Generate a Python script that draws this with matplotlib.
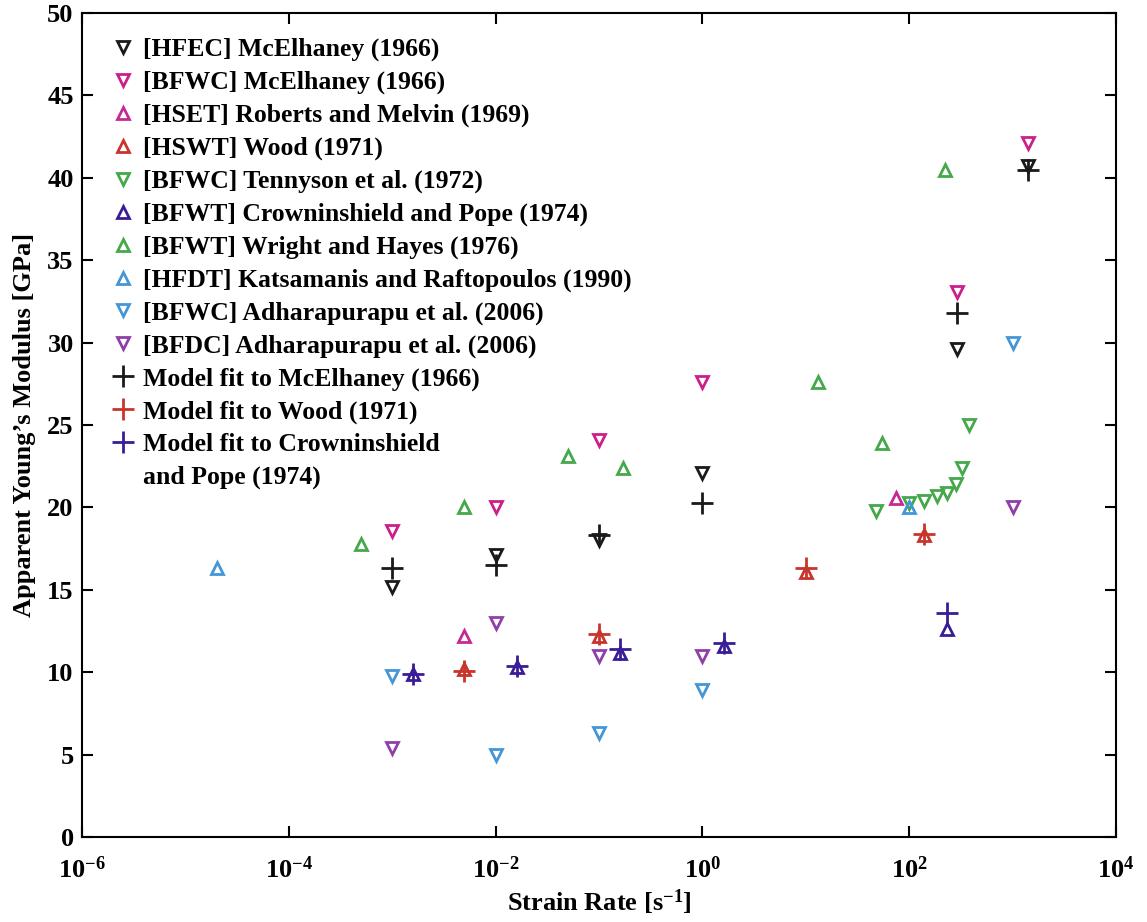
import matplotlib
matplotlib.use('Agg')
import matplotlib.pyplot as plt
from matplotlib.lines import Line2D

plt.rcParams['font.family'] = ['Liberation Serif', 'DejaVu Serif']
plt.rcParams['font.weight'] = 'bold'
plt.rcParams['font.size'] = 19
plt.rcParams['mathtext.fontset'] = 'custom'
plt.rcParams['mathtext.rm'] = 'Liberation Serif:bold'
plt.rcParams['mathtext.it'] = 'Liberation Serif:bold'
plt.rcParams['mathtext.bf'] = 'Liberation Serif:bold'

# data: (strain rate [1/s], modulus [GPa])
hfec_mce_x = [1e-3, 1e-2, 1e-1, 1, 290, 1400]
hfec_mce_y = [15.2, 17.1, 18.0, 22.1, 29.6, 40.7]

bfwc_mce_x = [1e-3, 1e-2, 1e-1, 1, 290, 1400]
bfwc_mce_y = [18.6, 20.0, 24.1, 27.6, 33.1, 42.1]

hset_rob_x = [5e-3, 75]
hset_rob_y = [12.2, 20.6]

hswt_wood_x = [5e-3, 0.1, 10, 140]
hswt_wood_y = [10.2, 12.2, 16.1, 18.3]

bfwc_ten_x = [48, 100, 140, 187, 233, 286, 325, 380]
bfwc_ten_y = [19.8, 20.3, 20.4, 20.7, 20.9, 21.4, 22.4, 25.0]

bfwt_crown_x = [1.6e-3, 1.6e-2, 0.16, 1.6, 230]
bfwt_crown_y = [9.9, 10.3, 11.2, 11.6, 12.6]

bfwt_wright_x = [5e-4, 5e-3, 5e-2, 0.17, 13, 55, 220]
bfwt_wright_y = [17.8, 20.0, 23.1, 22.4, 27.6, 23.9, 40.5]

hfdt_kats_x = [2e-5, 100]
hfdt_kats_y = [16.3, 20.0]

bfwc_adh_x = [1e-3, 1e-2, 1e-1, 1, 1000]
bfwc_adh_y = [9.8, 5.0, 6.3, 8.9, 30.0]

bfdc_adh_x = [1e-3, 1e-2, 1e-1, 1, 1000]
bfdc_adh_y = [5.4, 13.0, 11.0, 11.0, 20.0]

fit_mce_x = [1e-3, 1e-2, 1e-1, 1, 290, 1400]
fit_mce_y = [16.3, 16.5, 18.3, 20.3, 31.8, 40.5]

fit_wood_x = [5e-3, 0.1, 10, 140]
fit_wood_y = [10.1, 12.3, 16.3, 18.4]

fit_crown_x = [1.6e-3, 1.6e-2, 0.16, 1.6, 230]
fit_crown_y = [9.9, 10.4, 11.4, 11.8, 13.6]

fig = plt.figure(figsize=(11.47, 9.22), dpi=100)
ax = fig.add_axes([0.0715, 0.092, 0.9015, 0.894])

tri = dict(linestyle='none', markerfacecolor='none', markersize=8, markeredgewidth=2)
plus = dict(linestyle='none', markersize=16, markeredgewidth=2)

ax.plot(hfec_mce_x, hfec_mce_y, 'v', color='#1a1a1a', label='[HFEC] McElhaney (1966)', **tri)
ax.plot(bfwc_mce_x, bfwc_mce_y, 'v', color='#cc1f8a', label='[BFWC] McElhaney (1966)', **tri)
ax.plot(hset_rob_x, hset_rob_y, '^', color='#c42a96', label='[HSET] Roberts and Melvin (1969)', **tri)
ax.plot(hswt_wood_x, hswt_wood_y, '^', color='#c8352c', label='[HSWT] Wood (1971)', **tri)
ax.plot(bfwc_ten_x, bfwc_ten_y, 'v', color='#45a84a', label='[BFWC] Tennyson et al. (1972)', **tri)
ax.plot(bfwt_crown_x, bfwt_crown_y, '^', color='#3a1c97', label='[BFWT] Crowninshield and Pope (1974)', **tri)
ax.plot(bfwt_wright_x, bfwt_wright_y, '^', color='#45a84a', label='[BFWT] Wright and Hayes (1976)', **tri)
ax.plot(hfdt_kats_x, hfdt_kats_y, '^', color='#4496d6', label='[HFDT] Katsamanis and Raftopoulos (1990)', **tri)
ax.plot(bfwc_adh_x, bfwc_adh_y, 'v', color='#4496d6', label='[BFWC] Adharapurapu et al. (2006)', **tri)
ax.plot(bfdc_adh_x, bfdc_adh_y, 'v', color='#8e3fa8', label='[BFDC] Adharapurapu et al. (2006)', **tri)
ax.plot(fit_mce_x, fit_mce_y, '+', color='#1a1a1a', label='Model fit to McElhaney (1966)', **plus)
ax.plot(fit_wood_x, fit_wood_y, '+', color='#c8352c', label='Model fit to Wood (1971)', **plus)
ax.plot(fit_crown_x, fit_crown_y, '+', color='#3a1c97', label='Model fit to Crowninshield', **plus)

ax.set_xscale('log')
ax.set_xlim(1e-6, 1e4)
ax.set_ylim(0, 50)
ax.set_xticks([1e-6, 1e-4, 1e-2, 1, 1e2, 1e4])
ax.set_yticks(range(0, 51, 5))
ax.minorticks_off()
ax.tick_params(direction='in', top=True, right=True, length=8, width=1.5, labelsize=19)
ax.tick_params(axis='y', pad=6)
ax.tick_params(axis='x', pad=14)
for s in ax.spines.values():
    s.set_linewidth(1.5)

ax.set_xlabel('Strain Rate [s$^{-1}$]', fontsize=19, fontweight='bold', labelpad=3)
ax.set_ylabel('Apparent Young\u2019s Modulus [GPa]', fontsize=19, fontweight='bold', labelpad=8)

# second line of the last legend entry, no marker
handles, labels = ax.get_legend_handles_labels()
handles.append(Line2D([], [], linestyle='none', marker='none'))
labels.append('and Pope (1974)')

ax.legend(handles, labels, loc='upper left', frameon=False, fontsize=18.5,
          handlelength=1.0, handletextpad=0.3, labelspacing=0.37,
          borderaxespad=0.0, bbox_to_anchor=(0.017, 0.982))

fig.savefig('out.png', dpi=100)
